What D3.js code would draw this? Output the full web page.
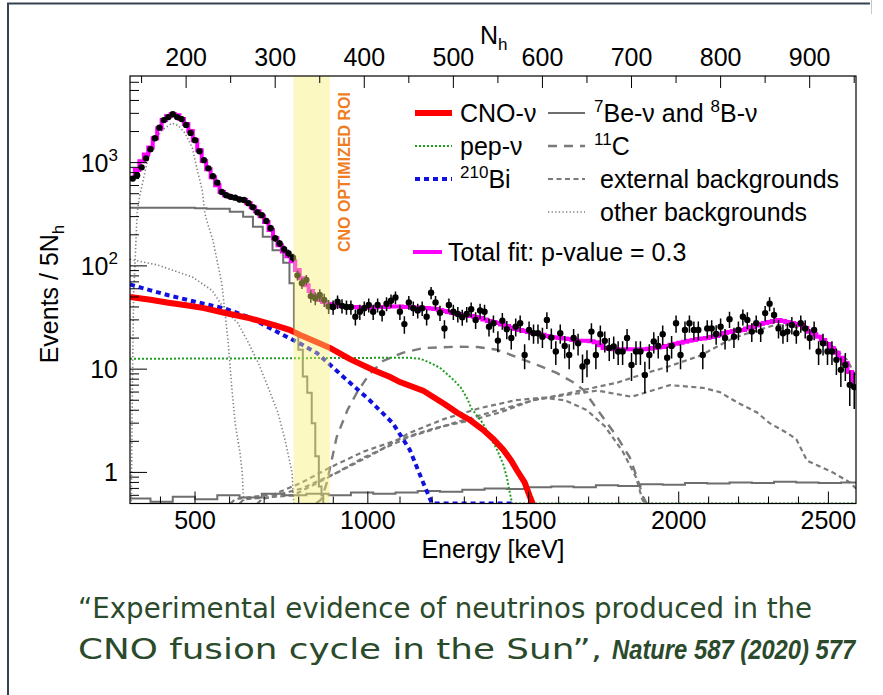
<!DOCTYPE html>
<html>
<head>
<meta charset="utf-8">
<script src="https://cdn.jsdelivr.net/npm/d3@7"></script>
<style>
  body { margin: 0; background: #fff; }
  svg { display: block; font-family: "Liberation Sans", Arial, Helvetica, sans-serif; }
</style>
</head>
<body>
<svg id="chart" width="883" height="695"></svg>
<script>
// histogram bins are 5 N_h wide, first bin centre at N_h = 140
var binStart = 140
var binWidth = 5

var dataCounts = [
  700, 755, 900, 1100, 1350, 1720, 2180, 2580, 2760, 2940, 2760, 2640,
  2320, 1940, 1650, 1290, 1057, 880, 740, 640, 520, 484, 466, 458,
  440, 434, 405, 370, 330, 310, 272, 232, 185, 165, 145, 132, 120,
  81, 68, 73, 51, 48.6, 52.3, 46.8, 40.5, 40, 45, 41, 40, 40, 32.2,
  36, 38.9, 41.9, 36, 41.9, 34.9, 43, 46, 49.5, 36, 27.3, 44.3, 38.9,
  37, 38.9, 32.2, 55, 44.3, 35.2, 24.8, 41.9, 36, 34.2, 31.9, 34.2, 38,
  30, 37, 36, 25.8, 27.8, 18.9, 29.5, 24.4, 20, 25.8, 27.8, 13.7, 24,
  22.3, 22.3, 20.6, 30, 20.2, 14.8, 22.3, 16.8, 13.7, 20, 17.8,
  10.6, 11.8, 23.1, 13.7, 21.8, 18.8, 16, 16.6, 14.8, 14.8, 20, 11,
  14.8, 14.8, 8.8, 13.7, 18.5, 16.8, 21.8, 12.9, 16.8, 27.8, 13.7, 24,
  27.8, 24, 24, 13.7, 24.8, 24.8, 21.9, 25.8, 20, 30.5, 20.6, 24, 32.2,
  30, 23.1, 27.8, 23.1, 34.9, 43, 33.5, 24.8, 22.3, 23.1, 26.8, 22.3,
  27.8, 24.8, 20, 24, 14.8, 17.8, 14.8, 14.8, 12.3, 9.85, 11, 7.05, 6.7
]

// total fit, one value per bin
var fitCounts = [
  740, 846, 1030, 1200, 1400, 1720, 2140, 2580, 2810, 2940, 2880, 2640,
  2370, 2020, 1650, 1320, 1035, 865, 720, 605, 520, 484, 464, 454, 444,
  434, 405, 370, 338, 302, 266, 222, 185, 158, 138, 124, 111,
  91, 76, 65, 57, 51, 46.8, 44.7, 42.8, 41.9, 41, 41, 40, 40, 40, 39.6,
  39.6, 39.6, 39.6, 40, 40, 40, 40.4, 40.4, 40.4, 40, 40, 39.6, 39.6, 39.2,
  39, 38.6, 38.2, 37.4, 36.5, 35.7, 34.9, 34.2, 33.5, 33.1, 32.7, 32,
  31.3, 30.3, 29.3, 28.6, 28, 27, 26.2, 25.3, 24.5, 24, 23.4, 22.9, 22.4,
  21.9, 21.5, 21, 20.5, 20.2, 20, 19.8, 19.6, 19.2, 18.8,
  18.8, 18.8, 18.6, 18.2, 17, 16, 15.8, 15.6, 15.6, 15.6, 15.6, 15.6,
  15.6, 15.6, 15.6, 15.8, 16, 16.2, 16.4, 16.8, 17.2, 17.6, 18, 18.4,
  18.8, 19.2, 19.6, 19.8, 20, 20.5, 21, 21.7, 22.4, 22.9, 23.4, 23.7,
  24, 24.8, 25.6, 26.5, 27.4, 28, 28.6,
  29.3, 30, 29.3, 28.6, 28, 27.4, 26.8, 25, 23, 21.8, 20.6, 19.2, 17.5,
  15.9, 14.4, 12.9, 11.5, 9.4, 7.4
]

// fit components as [N_h, events] pairs
var cnoNu = [[137,50],[160,47],[180,44],[200,41.5],[220,39],[244,35],[272,31],[300,26.5],
  [316,24],[330,21],[345,18.5],[362,16],[384,12.5],[410,9.8],[429,8.4],[440,7.5],[466,6.2],
  [477,5.4],[490,4.6],[504,3.8],[519,3.2],[533,2.6],[545,2.1],[556,1.66],[565,1.3],[571,1.06],
  [580,0.8],[586,0.58],[589,0]]
var pepNu = [[137,12.6],[250,12.7],[350,12.8],[450,12.9],[463,12.6],[474,11.5],[485,10.3],
  [500,7.9],[508,6.7],[516,5.1],[520,4.2],[533,3.0],[540,2.3],[549,1.66],[556,1.2],[560,0.9],
  [564,0.6],[566,0],[952,0]]
var bi210 = [[137,66],[160,58],[180,52],[210,45],[244,38.5],[272,31.5],[305,22.3],[330,17.3],
  [347,14.3],[376,8.5],[406,5.0],[432,3.0],[451,1.66],[466,0.8],[474,0.55],[476,0],[566,0]]
var be7Nu = [[137,365],[180,365],[210,362],[223,358],[249,334],[264,299],[275,239],[286,191],
  [297,142],[309,107],[316,68],[321,22.4],[326,15.4],[331,8.5],[336,5.9],[341,3.0],[345,1.43],
  [349,0.73],[352,0.6],[354,0]]
var b8Nu = [[137,0.56],[160,0.52],[185,0.58],[210,0.55],[235,0.6],[260,0.57],[285,0.62],[310,0.6],
  [335,0.62],[360,0.6],[385,0.64],[410,0.62],[435,0.64],[460,0.66],[485,0.65],[510,0.68],
  [535,0.7],[560,0.69],[585,0.72],[610,0.73],[635,0.72],[660,0.75],[685,0.74],[710,0.77],
  [735,0.76],[760,0.79],[785,0.78],[810,0.8],[835,0.79],[860,0.81],[885,0.8],[910,0.79],
  [935,0.8],[952,0.78]]
var c11 = [[346,0],[352,0.55],[358,0.8],[369,2.2],[381,4],[392,6],[406,9],[421,12],[443,14.4],
  [466,16],[504,16.5],[527,16.4],[549,15.4],[571,13.1],[594,11],[616,9.2],[634,7.5],[646,6.3],
  [664,3.8],[684,2.2],[698,1.4],[706,0.9],[713,0.58],[717,0]]
var extTl208 = [[250,0],[255,0.55],[300,0.62],[330,0.8],[360,1.1],[400,1.6],[440,2.1],[480,2.7],
  [520,3.2],[552,3.8],[589,5.0],[628,5.8],[646,6.3],[684,7.4],[717,9.2],[740,10.5],[777,13.5],
  [814,20],[836,23],[859,26.5],[878,26.8],[904,22.4],[926,16.5],[942,12.3],[952,8.5]]
var extBi214 = [[260,0],[265,0.55],[320,0.6],[360,0.9],[400,1.4],[450,2.2],[500,3.0],[550,4.0],
  [590,5.0],[625,5.6],[662,6.2],[700,5.4],[743,7.0],[780,6.6],[799,6.0],[818,4.8],[841,3.8],
  [855,3.0],[875,2.4],[885,2.1],[897,1.3],[926,1.0],[945,0.8],[952,0.7]]
var extK40 = [[280,0],[285,0.55],[330,0.7],[370,1.0],[410,1.5],[450,2.4],[490,3.3],[530,4.2],
  [570,5.0],[600,5.3],[625,5.0],[650,4.0],[670,2.8],[690,1.6],[705,0.9],[712,0.55],[715,0]]
var po210 = [[137,0],[138.5,0.5],[139.5,5],[141,50],[145,324],[148,483],[156,986],[163,1540],
  [173,2060],[184,2410],[191,2300],[199,1915],[207,1390],[212,885],[218,542],[221,324],[223,278],
  [230,178],[240,68],[247,19],[251.5,6.3],[255,3],[260.5,1.55],[263,0.99],[264,0.63],[265,0]]
var kr85 = [[137,116],[168,102],[207,78],[229,58],[244,37],[258,28],[270,18],[281,11.5],[292,6.7],
  [303,3.8],[311,2.07],[319,0.99],[320,0.64],[321,0]]

// axis labels
var nhTickLabels = [200, 300, 400, 500, 600, 700, 800, 900]
var energyTicks = [500, 1000, 1500, 2000, 2500]
var energyTickNh = [210, 404, 584.5, 753, 921]   // where each energy label sits on the N_h axis
var yTickLabels = [1, 10, 100, 1000]
var roiEnergy = [785, 890]

var plotL = 130, plotR = 856, plotT = 76, plotB = 503.5

var x = d3.scaleLinear().domain([137, 952]).range([plotL, plotR])
var y = d3.scaleLog().domain([0.5, 6900]).range([plotB, plotT])
var eToNh = d3.scaleLinear().domain(energyTicks).range(energyTickNh)
function yv(v) { return y(Math.max(v, 0.5)) }
function xe(e) { return x(eToNh(e)) }

var svg = d3.select('#chart')
svg.append('rect').attr('width', 883).attr('height', 695).attr('fill', '#fff')

// slide frame
svg.append('path').attr('d', 'M8,695 V3.5 H870')
  .attr('fill', 'none').attr('stroke', '#34434f').attr('stroke-width', 2)
svg.append('line').attr('x1', 871.5).attr('x2', 871.5).attr('y1', 0).attr('y2', 14)
  .attr('stroke', '#c8c8c8').attr('stroke-width', 1)

svg.append('clipPath').attr('id', 'plotclip').append('rect')
  .attr('x', plotL).attr('y', plotT).attr('width', plotR - plotL).attr('height', plotB - plotT)
var plot = svg.append('g').attr('clip-path', 'url(#plotclip)')

var line = d3.line().x(d => x(d[0])).y(d => yv(d[1]))

var components = [
  {pts: po210, color: '#7f7f7f', width: 1.6, dash: '1.3,2.3', curve: d3.curveLinear},
  {pts: kr85, color: '#7f7f7f', width: 1.6, dash: '1.3,2.3', curve: d3.curveLinear},
  {pts: extK40, color: '#7a7a7a', width: 2.2, dash: '5,3.5', curve: d3.curveLinear},
  {pts: extBi214, color: '#7a7a7a', width: 2.2, dash: '5,3.5', curve: d3.curveLinear},
  {pts: extTl208, color: '#7a7a7a', width: 2.2, dash: '5,3.5', curve: d3.curveLinear},
  {pts: c11, color: '#7a7a7a', width: 2.4, dash: '9,7', curve: d3.curveLinear},
  {pts: b8Nu, color: '#6e6e6e', width: 2, dash: null, curve: d3.curveStepAfter},
  {pts: be7Nu, color: '#6e6e6e', width: 2, dash: null, curve: d3.curveStepAfter},
  {pts: pepNu, color: '#1f9e1f', width: 2, dash: '2,2', curve: d3.curveLinear},
  {pts: bi210, color: '#1010e0', width: 4, dash: '5,4', curve: d3.curveLinear},
  {pts: cnoNu, color: '#ff0000', width: 6, dash: null, curve: d3.curveLinear}
]
components.forEach(function(c) {
  plot.append('path')
    .attr('d', line.curve(c.curve)(c.pts))
    .attr('fill', 'none')
    .attr('stroke', c.color)
    .attr('stroke-width', c.width)
    .attr('stroke-dasharray', c.dash)
})

// total fit as a step histogram
var fitPts = fitCounts.map((v, i) => [binStart + i * binWidth, v])
plot.append('path')
  .attr('d', line.curve(d3.curveStep)(fitPts))
  .attr('fill', 'none').attr('stroke', '#ff00ff').attr('stroke-width', 4)

// data with Poisson error bars
var dataPts = dataCounts.map((v, i) => [binStart + i * binWidth, v])
plot.selectAll('.err').data(dataPts).join('line')
  .attr('x1', d => x(d[0])).attr('x2', d => x(d[0]))
  .attr('y1', d => yv(d[1] + Math.sqrt(d[1])))
  .attr('y2', d => yv(d[1] - Math.sqrt(d[1])))
  .attr('stroke', '#000').attr('stroke-width', 1.5)
plot.selectAll('.dot').data(dataPts).join('circle')
  .attr('cx', d => x(d[0])).attr('cy', d => yv(d[1])).attr('r', 3.2)
  .attr('fill', '#000')

// CNO optimized ROI band (semi transparent, on top)
svg.append('rect')
  .attr('x', xe(roiEnergy[0])).attr('y', plotT)
  .attr('width', xe(roiEnergy[1]) - xe(roiEnergy[0])).attr('height', plotB - plotT)
  .attr('fill', '#f5ee6e').attr('opacity', 0.42)

// frame
svg.append('rect').attr('x', plotL).attr('y', plotT)
  .attr('width', plotR - plotL).attr('height', plotB - plotT)
  .attr('fill', 'none').attr('stroke', '#000').attr('stroke-width', 1.2)

var ticks = svg.append('g').attr('stroke', '#000').attr('stroke-width', 1)

// top N_h ticks
var nhTicks = d3.range(150, 951, 50)
ticks.selectAll('.tt').data(nhTicks).join('line')
  .attr('x1', d => x(d)).attr('x2', d => x(d))
  .attr('y1', plotT).attr('y2', d => plotT + (d % 100 === 0 ? 12 : 7))
svg.selectAll('.tl').data(nhTickLabels).join('text')
  .attr('x', d => x(d)).attr('y', 66).attr('text-anchor', 'middle')
  .attr('font-size', 25).text(d => d)

// bottom energy ticks
var eTicks = d3.range(400, 2601, 100).filter(e => xe(e) > plotL && xe(e) < plotR)
ticks.selectAll('.bt').data(eTicks).join('line')
  .attr('x1', d => xe(d)).attr('x2', d => xe(d))
  .attr('y1', plotB).attr('y2', d => plotB - (d % 500 === 0 ? 12 : 7))
svg.selectAll('.bl').data(energyTicks).join('text')
  .attr('x', d => xe(d)).attr('y', 529).attr('text-anchor', 'middle')
  .attr('font-size', 25).text(d => d)

// left log ticks
var yMinor = []
;[0.1, 1, 10, 100, 1000].forEach(function(dec) {
  for (var m = 2; m <= 9; m++) {
    var v = dec * m
    if (v >= 0.5 && v <= 6900) yMinor.push(v)
  }
})
ticks.selectAll('.ym').data(yMinor).join('line')
  .attr('x1', plotL).attr('x2', plotL + 9)
  .attr('y1', d => y(d)).attr('y2', d => y(d))
ticks.selectAll('.yM').data(yTickLabels).join('line')
  .attr('x1', plotL).attr('x2', plotL + 17)
  .attr('y1', d => y(d)).attr('y2', d => y(d))

var yLab = svg.selectAll('.yl').data(yTickLabels).join('text')
  .attr('x', 118).attr('y', d => y(d) + 9).attr('text-anchor', 'end')
  .attr('font-size', 25)
yLab.each(function(d) {
  var t = d3.select(this)
  var p = Math.round(Math.log10(d))
  if (p < 2) { t.text(d); return }
  t.append('tspan').text('10')
  t.append('tspan').attr('dy', -11).attr('font-size', 17).text(p)
})

// axis titles
svg.append('text').attr('x', (plotL + plotR) / 2).attr('y', 558)
  .attr('text-anchor', 'middle').attr('font-size', 25).text('Energy [keV]')
var ytitle = svg.append('text').attr('transform', 'translate(58,294) rotate(-90)')
  .attr('text-anchor', 'middle').attr('font-size', 25)
ytitle.append('tspan').text('Events / 5N')
ytitle.append('tspan').attr('dy', 6).attr('font-size', 17).text('h')
var nh = svg.append('text').attr('x', 480).attr('y', 44).attr('font-size', 25)
nh.append('tspan').text('N')
nh.append('tspan').attr('dy', 6).attr('font-size', 17).text('h')

// ROI label
svg.append('text').attr('transform', 'translate(350,172) rotate(-90)')
  .attr('text-anchor', 'middle').attr('font-size', 16).attr('font-weight', 'bold')
  .attr('fill', '#ef7d22').text('CNO OPTIMIZED ROI')

// legend
var legendRows = [
  {x: 415, y: 113, len: 37, gap: 8, color: '#ff0000', width: 6, dash: null, label: [['CNO-ν']]},
  {x: 415, y: 146, len: 37, gap: 8, color: '#1f9e1f', width: 2, dash: '2,2', label: [['pep-ν']]},
  {x: 415, y: 179, len: 37, gap: 8, color: '#1010e0', width: 4, dash: '5,4', label: [['210', 1], ['Bi']]},
  {x: 548, y: 113, len: 37, gap: 9, color: '#6e6e6e', width: 2, dash: null, label: [['7', 1], ['Be-ν and '], ['8', 1], ['B-ν']]},
  {x: 548, y: 146, len: 37, gap: 9, color: '#7a7a7a', width: 2.4, dash: '9,7', label: [['11', 1], ['C']]},
  {x: 548, y: 179, len: 37, gap: 15, color: '#7a7a7a', width: 2.2, dash: '5,3.5', label: [['external backgrounds']]},
  {x: 548, y: 212, len: 37, gap: 15, color: '#7f7f7f', width: 1.6, dash: '1.3,2.3', label: [['other backgrounds']]},
  {x: 413, y: 252, len: 29, gap: 6, color: '#ff00ff', width: 4, dash: null, label: [['Total fit: p-value = 0.3']]}
]
var legend = svg.append('g')
legendRows.forEach(function(r) {
  legend.append('line').attr('x1', r.x).attr('x2', r.x + r.len)
    .attr('y1', r.y).attr('y2', r.y)
    .attr('stroke', r.color).attr('stroke-width', r.width).attr('stroke-dasharray', r.dash)
  var t = legend.append('text').attr('x', r.x + r.len + r.gap).attr('y', r.y + 9)
    .attr('font-size', 25)
  var prevSup = false
  r.label.forEach(function(seg) {
    var sup = seg[1] === 1
    var ts = t.append('tspan').text(seg[0])
    if (sup) ts.attr('dy', prevSup ? 0 : -10).attr('font-size', 17)
    else if (prevSup) ts.attr('dy', 10)
    prevSup = sup
  })
})

// caption
var cap = svg.append('g').attr('fill', '#2b4a2b')
  .style('font-family', '"DejaVu Sans Condensed", "Liberation Sans Narrow", "Open Sans", sans-serif')
cap.append('text').attr('x', 78).attr('y', 618).attr('font-size', 28)
  .attr('textLength', 734).attr('lengthAdjust', 'spacingAndGlyphs')
  .text('\u201cExperimental evidence of neutrinos produced in the')
cap.append('text').attr('x', 78).attr('y', 659).attr('font-size', 28)
  .attr('textLength', 524).attr('lengthAdjust', 'spacingAndGlyphs')
  .text('CNO fusion cycle in the Sun\u201d,')
// bold reference, squeezed horizontally to fit the line end
cap.append('text').attr('transform', 'translate(612,659) scale(0.85,1)')
  .attr('font-size', 28)
  .style('font-family', '"Liberation Sans", Arial, sans-serif')
  .attr('font-weight', 'bold').attr('font-style', 'italic')
  .text('Nature 587 (2020) 577')
</script>
</body>
</html>
